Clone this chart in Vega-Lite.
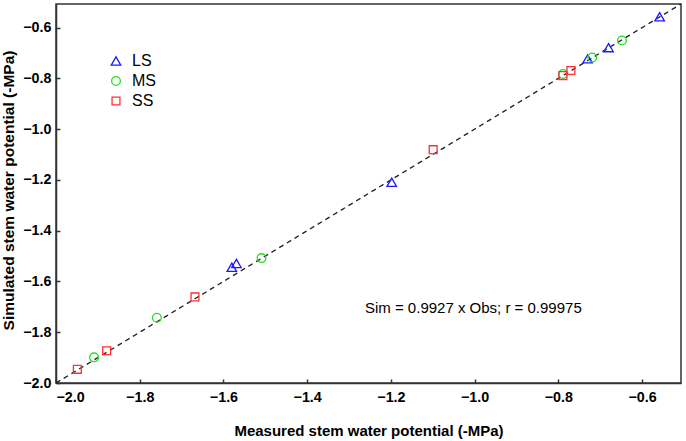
{
  "$schema": "https://vega.github.io/schema/vega-lite/v6.json",
  "autosize": "none",
  "width": 625,
  "height": 379,
  "padding": {"left": 56, "top": 4, "right": 5, "bottom": 58},
  "background": "white",
  "config": {
    "font": "Liberation Sans",
    "view": {"stroke": "#333333", "strokeWidth": 1.5},
    "axis": {
      "domainColor": "#333333",
      "domainWidth": 1.5,
      "tickColor": "#333333",
      "tickSize": -4,
      "tickWidth": 1.5,
      "labelPadding": 9,
      "labelFont": "Liberation Sans",
      "labelFontSize": 14.3,
      "labelFontWeight": "bold",
      "labelColor": "black",
      "titleFont": "Liberation Sans",
      "titleFontSize": 15,
      "titleFontWeight": "bold",
      "titleColor": "black",
      "grid": false
    }
  },
  "datasets": {
    "points": [
      {"obs": -0.558, "sim": -0.557, "group": "LS"},
      {"obs": -0.680, "sim": -0.679, "group": "LS"},
      {"obs": -0.730, "sim": -0.723, "group": "LS"},
      {"obs": -1.198, "sim": -1.209, "group": "LS"},
      {"obs": -1.569, "sim": -1.529, "group": "LS"},
      {"obs": -1.580, "sim": -1.544, "group": "LS"},
      {"obs": -0.648, "sim": -0.651, "group": "MS"},
      {"obs": -0.719, "sim": -0.718, "group": "MS"},
      {"obs": -0.789, "sim": -0.783, "group": "MS"},
      {"obs": -1.509, "sim": -1.508, "group": "MS"},
      {"obs": -1.759, "sim": -1.743, "group": "MS"},
      {"obs": -1.909, "sim": -1.899, "group": "MS"},
      {"obs": -0.770, "sim": -0.769, "group": "SS"},
      {"obs": -0.789, "sim": -0.789, "group": "SS"},
      {"obs": -1.099, "sim": -1.081, "group": "SS"},
      {"obs": -1.668, "sim": -1.661, "group": "SS"},
      {"obs": -1.879, "sim": -1.873, "group": "SS"},
      {"obs": -1.949, "sim": -1.946, "group": "SS"}
    ],
    "fit": [
      {"obs": -2.0, "sim": -2.0},
      {"obs": -0.507, "sim": -0.507}
    ],
    "note": [
      {"obs": -1.262, "sim": -1.705, "label": "Sim = 0.9927 x Obs; r = 0.99975"}
    ]
  },
  "encoding": {
    "x": {
      "field": "obs", "type": "quantitative",
      "scale": {"domain": [-2.0, -0.507], "nice": false, "zero": false},
      "axis": {"values": [-2.0, -1.8, -1.6, -1.4, -1.2, -1.0, -0.8, -0.6], "format": ".1f", "title": "Measured stem water potential (-MPa)", "titlePadding": 19, "labelPadding": 11}
    },
    "y": {
      "field": "sim", "type": "quantitative",
      "scale": {"domain": [-2.0, -0.507], "nice": false, "zero": false},
      "axis": {"values": [-2.0, -1.8, -1.6, -1.4, -1.2, -1.0, -0.8, -0.6], "format": ".1f", "title": "Simulated stem water potential (-MPa)", "titlePadding": 6, "titleFontSize": 15.5, "titleY": 186}
    }
  },
  "layer": [
    {
      "data": {"name": "fit"},
      "mark": {"type": "line", "color": "#222222", "strokeDash": [5, 4], "strokeWidth": 1.3},
      "encoding": {}
    },
    {
      "data": {"name": "points"},
      "mark": {"type": "point", "filled": false, "strokeWidth": 1.3, "opacity": 1},
      "encoding": {
        "color": {
          "field": "group", "type": "nominal",
          "scale": {"domain": ["LS", "MS", "SS"], "range": ["#1a1aff", "#22e022", "#ff3030"]},
          "legend": {"orient": "none", "legendX": 52, "legendY": 49, "title": null, "labelFontSize": 16, "labelFont": "Liberation Sans", "labelColor": "black", "symbolSize": 80, "symbolStrokeWidth": 1.3, "rowPadding": 4, "labelOffset": 8}
        },
        "shape": {
          "field": "group", "type": "nominal",
          "scale": {"domain": ["LS", "MS", "SS"], "range": ["triangle-up", "circle", "square"]},
          "legend": {"orient": "none", "legendX": 52, "legendY": 49, "title": null, "labelFontSize": 16, "labelFont": "Liberation Sans", "labelColor": "black", "symbolSize": 80, "symbolStrokeWidth": 1.3, "rowPadding": 4, "labelOffset": 8}
        },
        "size": {
          "field": "group", "type": "nominal",
          "scale": {"domain": ["LS", "MS", "SS"], "range": [90, 62, 58]},
          "legend": null
        }
      }
    },
    {
      "data": {"name": "note"},
      "mark": {"type": "text", "align": "left", "baseline": "middle", "fontSize": 15, "font": "Liberation Sans", "color": "black"},
      "encoding": {"text": {"field": "label", "type": "nominal"}}
    }
  ]
}
